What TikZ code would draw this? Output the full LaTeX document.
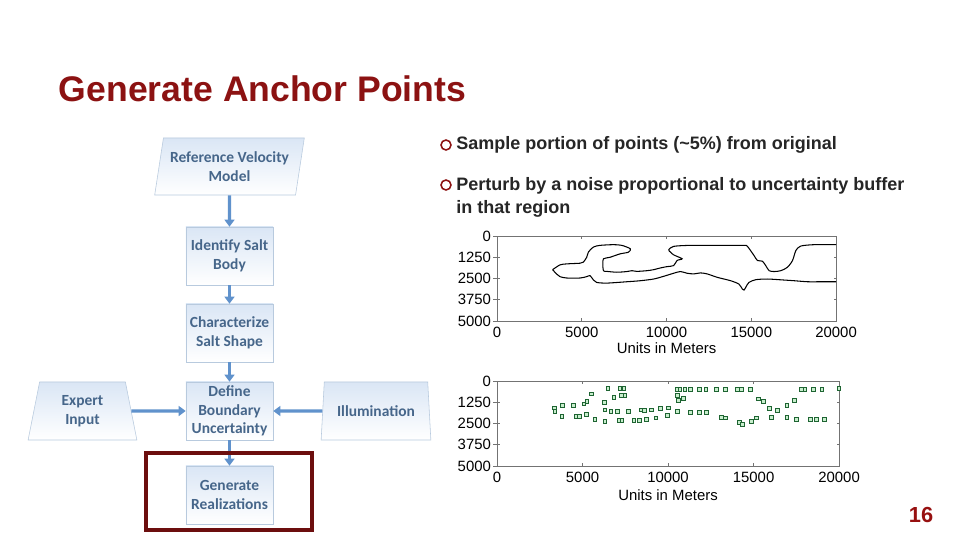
\documentclass[tikz,border=0pt]{standalone}
\usepackage{xcolor}
\usepackage{fontspec}
\setmainfont{Liberation Sans}
\newfontfamily\flowfont{Carlito}
\usetikzlibrary{shapes.geometric, arrows.meta, positioning, plotmarks}

\definecolor{titlered}{RGB}{140,18,18}
\definecolor{framered}{RGB}{108,14,14}
\definecolor{boxtext}{RGB}{70,102,138}
\definecolor{boxline}{RGB}{184,202,222}
\definecolor{boxfill}{RGB}{218,230,245}
\definecolor{flowarrow}{RGB}{96,146,204}
\definecolor{ptgreen}{RGB}{30,100,50}
\definecolor{ptfill}{RGB}{200,238,205}

\tikzset{
  stage/.style={draw=boxline, top color=boxfill, bottom color=white, text=boxtext,
    font=\flowfont\bfseries\fontsize{11}{13.2}\selectfont, align=center,
    minimum width=2.175cm, minimum height=1.45cm, inner sep=1pt},
  source/.style={stage, trapezium, trapezium stretches=true,
    trapezium left angle=80, trapezium right angle=80, minimum width=2.725cm},
  link/.style={-{Triangle[length=5pt,width=7pt]}, line width=2.2pt, draw=flowarrow},
  bullet/.style={circle, draw=titlered, line width=1.1pt, minimum size=0.25cm, inner sep=0pt},
  bullettext/.style={font=\bfseries\fontsize{12.8}{16.4}\selectfont, text=black!85, align=left, inner sep=0pt},
  ticklabel/.style={font=\fontsize{10.6}{12}\selectfont, inner sep=1pt},
  axisbox/.style={draw=black!55, line width=0.6pt}
}

\begin{document}
\begin{tikzpicture}[x=0.025cm, y=-0.025cm]
\useasboundingbox[fill=white] (0,0) rectangle (960,540);

% Title
\node[anchor=west, font=\bfseries\fontsize{25.3}{30}\selectfont, text=titlered] (title) at (54,89) {Generate Anchor Points};

% Flow chart
\node[source, trapezium left angle=76, trapezium right angle=104, minimum width=3.775cm, minimum height=1.425cm] (refmodel) at (229.5,166.5) {Reference Velocity\\Model};
\node[stage] (identify) at (229.5,256) {Identify Salt\\Body};
\node[stage] (characterize) at (229.5,333) {Characterize\\Salt Shape};
\node[stage] (boundary) at (229.5,411) {Define\\Boundary\\Uncertainty};
\node[stage] (realize) at (229.5,495) {Generate\\Realizations};
\node[source] (expert) at (82.5,411) {Expert\\Input};
\node[source, minimum width=2.75cm] (illum) at (376,411) {Illumination};

\draw[link] (refmodel) -- (identify);
\draw[link] (identify) -- (characterize);
\draw[link] (characterize) -- (boundary);
\draw[link] (boundary) -- (realize);
\draw[link] (expert) -- (boundary);
\draw[link] (illum) -- (boundary);

% Highlight frame
\node[draw=framered, line width=2.2pt, minimum width=4.15cm, minimum height=1.925cm] (focus) at (229,491.5) {};

% Bullets
\node[bullet] (dot1) at (446,145) {};
\node[bullettext, anchor=west] (item1) at (456,145) {Sample portion of points (\textasciitilde5\%) from original};
\node[bullet] (dot2) at (446,185) {};
\node[bullettext, anchor=north west] (item2) at (456,177.5) {Perturb by a noise proportional to uncertainty buffer\\in that region};

% Plot 1: salt boundary
\begin{scope}[shift={(497,236)}, x=0.42375cm, y=-0.425cm]
    \draw[axisbox] (0,0) rectangle (20,5);
    \foreach \x/\label in {0/0, 5/5000, 10/10000, 15/15000, 20/20000} {
        \draw[axisbox] (\x,0) -- (\x,0.15);
        \draw[axisbox] (\x,5) -- (\x,4.85) node[ticklabel, below=5pt] {\label};
    }
    \foreach \y/\label in {0/0, 1.25/1250, 2.5/2500, 3.75/3750, 5/5000} {
        \draw[axisbox] (20,\y) -- (19.85,\y);
        \draw[axisbox] (0.15,\y) -- (-0.25,\y) node[ticklabel, left] {\label};
    }
    \node[ticklabel] (xlabel1) at (10,6.6) {Units in Meters};

    % Salt body outline
    \draw[line width=0.75pt, black] plot[smooth, tension=0.45] coordinates {
        (3.28,1.98) (3.71,1.70) (4.11,1.64) (4.90,1.60) (5.09,1.54) (5.29,1.25)
        (5.39,0.95) (5.69,0.65) (6.08,0.55) (6.87,0.51) (7.36,0.55) (7.86,0.75)
        (7.76,0.95) (7.26,1.05) (6.67,1.25) (6.28,1.34) (6.24,1.64) (6.28,2.04)
        (6.47,2.08) (7.07,2.13) (7.66,2.09) (7.96,2.04) (8.25,2.08) (8.84,2.04)
        (9.24,1.98) (9.63,1.88) (10.03,1.80) (10.42,1.74) (10.62,1.44) (10.92,1.34)
        (10.42,1.11) (10.23,0.95) (10.13,0.81) (10.42,0.61) (11.41,0.55) (13.38,0.55)
        (14.57,0.55) (14.77,0.61) (15.16,1.15) (15.36,1.44) (15.65,1.48) (15.85,1.74)
        (16.05,2.04) (16.35,2.09) (16.74,2.04) (17.13,1.84) (17.43,1.44) (17.63,0.85)
        (17.92,0.59) (18.71,0.51) (20,0.51)};
    \draw[line width=0.75pt, black] plot[smooth, tension=0.45] coordinates {
        (3.28,1.98) (3.51,2.23) (3.71,2.39) (4.11,2.47) (4.90,2.47) (5.29,2.39)
        (5.49,2.33) (5.69,2.59) (5.88,2.73) (6.47,2.77) (7.66,2.69) (8.45,2.63)
        (9.24,2.53) (9.83,2.37) (10.42,2.19) (10.82,2.09) (11.21,2.19) (11.61,2.23)
        (12.00,2.17) (12.40,2.23) (12.99,2.43) (13.78,2.63) (14.27,2.83) (14.47,3.12)
        (14.57,3.18) (14.67,3.02) (14.86,2.73) (15.26,2.57) (15.95,2.53) (16.94,2.59)
        (17.53,2.63) (18.32,2.69) (19.11,2.69) (20,2.69)};
\end{scope}

% Plot 2: sampled anchor points
\begin{scope}[shift={(497,381)}, x=0.4275cm, y=-0.425cm]
    \draw[axisbox] (0,0) rectangle (20,5);
    \foreach \x/\label in {0/0, 5/5000, 10/10000, 15/15000, 20/20000} {
        \draw[axisbox] (\x,0) -- (\x,0.15);
        \draw[axisbox] (\x,5) -- (\x,4.85) node[ticklabel, below=5pt] {\label};
    }
    \foreach \y/\label in {0/0, 1.25/1250, 2.5/2500, 3.75/3750, 5/5000} {
        \draw[axisbox] (20,\y) -- (19.85,\y);
        \draw[axisbox] (0.15,\y) -- (-0.25,\y) node[ticklabel, left] {\label};
    }
    \node[ticklabel] (xlabel2) at (10,6.7) {Units in Meters};

    % Anchor points
    \draw plot[only marks, mark=square*, mark size=1.35pt,
        mark options={draw=ptgreen, fill=ptfill, line width=0.45pt}] coordinates {
        (3.34,1.58) (3.38,1.78) (3.82,1.44) (3.79,2.07) (4.45,1.42) (4.64,2.09)
        (4.80,2.09) (5.07,1.34) (5.25,1.21) (5.23,1.98) (5.52,0.75) (5.72,2.23)
        (6.26,1.24) (6.30,1.70) (6.30,2.39) (6.48,0.45) (6.65,1.76) (7.02,1.76)
        (6.83,0.95) (7.18,0.45) (7.41,0.45) (7.28,0.85) (7.47,0.85) (7.14,2.33)
        (7.30,2.33) (7.69,1.76) (8.00,2.29) (8.31,2.29) (8.43,1.70) (8.62,1.74)
        (8.74,2.25) (9.01,1.70) (9.29,2.17) (9.56,1.60) (9.97,2.04) (10.01,1.58)
        (10.54,0.51) (10.69,0.51) (10.54,0.85) (10.58,1.15) (10.54,1.78) (10.89,1.01)
        (10.98,0.51) (11.28,0.51) (11.28,1.86) (11.82,0.47) (12.21,0.47) (11.82,1.82)
        (12.25,1.86) (12.84,0.47) (13.35,0.47) (13.13,2.13) (13.33,2.17) (14.05,0.47)
        (14.30,0.47) (14.17,2.41) (14.32,2.53) (14.79,0.51) (14.87,2.39) (15.18,2.17)
        (15.28,1.05) (15.57,1.19) (15.92,1.60) (16.02,2.13) (16.41,1.74) (16.94,1.44)
        (16.94,2.13) (17.40,1.15) (17.52,2.23) (17.81,0.49) (17.99,0.49) (18.50,0.47)
        (18.99,0.47) (18.34,2.23) (18.65,2.23) (19.12,2.23) (19.98,0.41)};
\end{scope}

% Slide number
\node[font=\bfseries\fontsize{15.5}{18}\selectfont, text=titlered!90!red] (pagenum) at (921,515) {16};
\end{tikzpicture}
\end{document}
